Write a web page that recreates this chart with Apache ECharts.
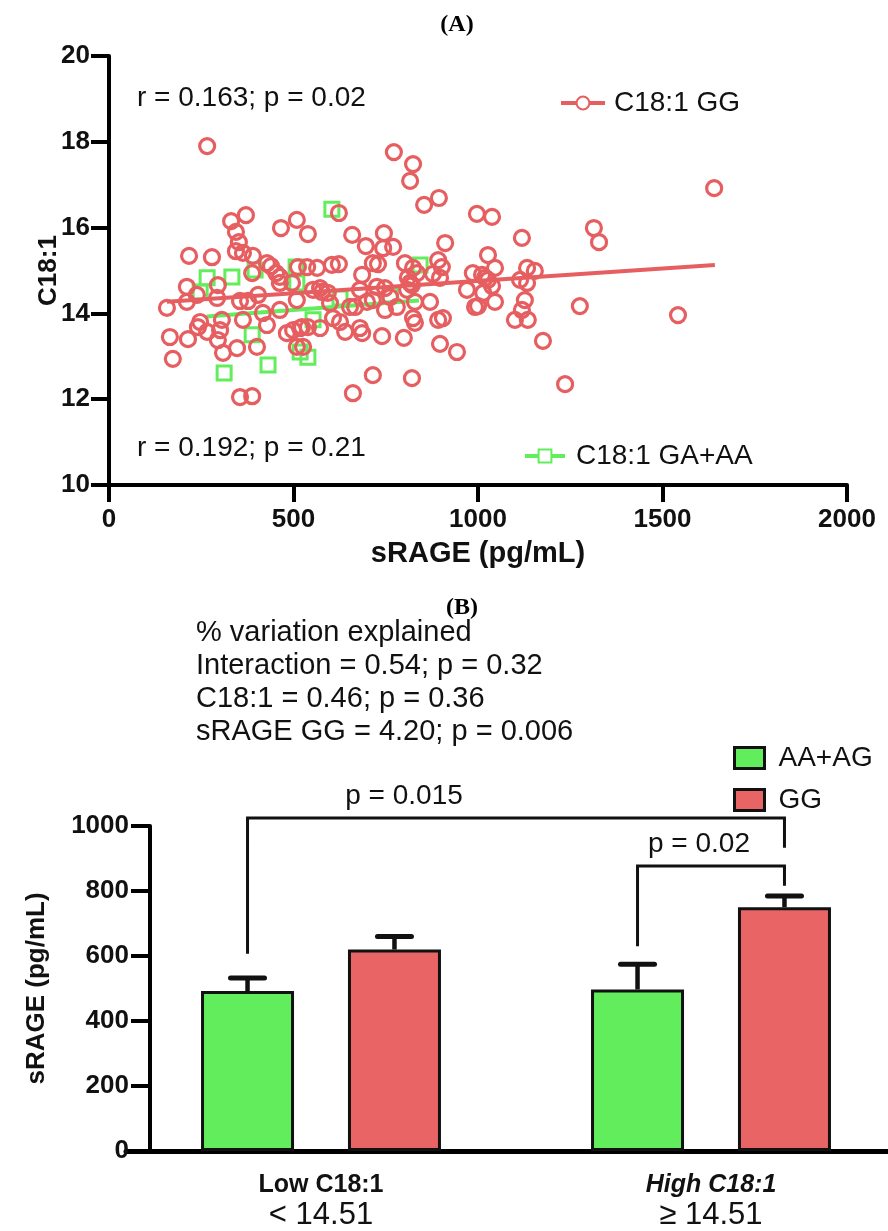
<!DOCTYPE html>
<html>
<head>
<meta charset="utf-8">
<title>C18:1 and sRAGE</title>
<script src="https://cdn.jsdelivr.net/npm/echarts@6/dist/echarts.min.js"></script>
<style>
html,body{margin:0;padding:0;background:#fff;}
#main{width:888px;height:1231px;}
</style>
</head>
<body>
<div id="main"></div>
<script>
// ---- (A) scatter, sRAGE (pg/mL) vs C18:1 ----
var ggPoints = [
 [266,17.90],[772,17.76],[824,17.48],[816,17.09],[854,16.53],[894,16.69],[997,16.32],[1038,16.25],
 [623,16.34],[331,16.15],[371,16.29],[344,15.90],[352,15.66],[344,15.45],[363,15.41],[390,15.34],
 [466,15.99],[509,16.18],[539,15.85],[659,15.83],[696,15.57],[745,15.87],[743,15.52],[770,15.55],
 [911,15.64],[217,15.34],[279,15.31],[428,15.17],[439,15.10],[453,14.94],[463,14.85],[512,15.08],
 [564,15.06],[537,15.08],[604,15.13],[623,15.15],[715,15.17],[729,15.15],[802,15.17],[824,15.06],
 [835,14.94],[686,14.90],[892,15.24],[902,15.08],[878,14.92],[986,14.94],[388,14.94],[211,14.62],
 [295,14.66],[238,14.43],[211,14.27],[293,14.36],[157,14.13],[355,14.29],[377,14.29],[404,14.43],
 [463,14.71],[496,14.71],[509,14.31],[553,14.55],[572,14.59],[593,14.48],[599,14.24],[680,14.55],
 [699,14.27],[715,14.31],[726,14.62],[748,14.59],[762,14.38],[780,14.15],[816,14.71],[808,14.55],
 [829,14.27],[870,14.27],[970,14.55],[992,14.15],[417,14.01],[428,13.73],[363,13.85],[306,13.85],
 [301,13.61],[295,13.38],[309,13.08],[247,13.80],[241,13.68],[266,13.57],[165,13.45],[214,13.40],
 [173,12.94],[347,13.19],[401,13.22],[463,14.08],[482,13.54],[499,13.61],[518,13.66],[539,13.68],
 [572,13.66],[509,13.22],[526,13.22],[607,13.89],[626,13.80],[640,13.57],[653,14.15],[667,14.15],
 [680,13.66],[686,13.54],[740,13.47],[799,13.43],[824,13.89],[829,13.78],[892,13.85],[905,13.89],
 [897,13.29],[943,13.10],[715,12.56],[821,12.49],[661,12.14],[355,12.05],[388,12.07],[1027,15.36],
 [1046,15.06],[1011,14.90],[1019,14.83],[1027,14.78],[1014,14.48],[1038,14.64],[1000,14.17],[1046,14.27],
 [1133,15.06],[1154,14.99],[1114,14.78],[1133,14.71],[1127,14.31],[1119,14.08],[1100,13.85],[1135,13.85],
 [1176,13.36],[1276,14.17],[1236,12.35],[1314,15.99],[1328,15.66],[1119,15.76],[1640,16.92],[1542,13.96],
 [810,14.83],[821,14.66],[897,14.83],[577,14.50],[748,14.08],[523,13.68]
];
var gaaaPoints = [
 [604,16.43],[266,14.83],[333,14.85],[396,15.01],[507,15.08],[509,14.71],[843,15.13],[626,14.36],
 [553,13.85],[388,13.50],[518,13.10],[539,12.98],[431,12.80],[312,12.61],[762,14.43],[247,14.50]
];
var ggFit = [[157,14.27],[1642,15.13]];
var gaaaFit = [[265,13.93],[840,14.30]];

// ---- (B) bars ----
var groups = ['Low C18:1', 'High C18:1'];
var groupCuts = ['< 14.51', '\u2265 14.51'];
var aaMean = [492, 497];
var aaUpper = [532, 575];   // mean + SEM
var ggMean = [620, 750];
var ggUpper = [660, 785];
// [from group, from bar(-1 AA / 1 GG), to group, to bar, left end, right end, top]
var brackets = [[0,-1,1,1,607,933,1025],[1,-1,1,1,630,816,877]];
var bracketText = ['p = 0.015', 'p = 0.02'];
var bracketTextShift = [-112, -12];

var RED = '#e65e60', GREEN = '#62ee5c';
var FONT = "'Liberation Sans', Arial, sans-serif";
var barW = 93, barGap = 0.58;
var pairOffset = barW * (1 + barGap) / 2;

var errData = [];
for (var i = 0; i < groups.length; i++) {
    errData.push([i, aaMean[i], aaUpper[i], -1]);
    errData.push([i, ggMean[i], ggUpper[i], 1]);
}

function plain(v) { return String(v); }

var myChart = echarts.init(document.getElementById('main'));
var option = {
    animation: false,
    backgroundColor: '#fff',
    textStyle: { fontFamily: FONT, color: '#111' },
    grid: [
        { left: 109, top: 56, width: 738, height: 429, outerBoundsMode: 'none' },
        { left: 126, top: 826, width: 780, height: 325, outerBoundsMode: 'none' }
    ],
    xAxis: [
        {
            gridIndex: 0, type: 'value', min: 0, max: 2000, interval: 500,
            name: 'sRAGE (pg/mL)', nameLocation: 'middle', nameGap: 54,
            nameTextStyle: { fontSize: 29, fontWeight: 'bold', color: '#111', verticalAlign: 'top' },
            axisLine: { lineStyle: { color: '#000', width: 4 } },
            axisTick: { length: 17, lineStyle: { color: '#000', width: 4 } },
            axisLabel: { fontSize: 26, fontWeight: 'bold', color: '#111', margin: 22, formatter: plain },
            splitLine: { show: false }
        },
        {
            gridIndex: 1, type: 'category', data: groups,
            axisLine: { lineStyle: { color: '#000', width: 5 } },
            axisTick: { alignWithLabel: true, length: 17, lineStyle: { color: '#000', width: 4 } },
            axisLabel: {
                margin: 20, interval: 0,
                formatter: function (v, idx) {
                    return '{' + (idx === 1 ? 'ai' : 'a') + '|' + v + '}\n{b|' + groupCuts[idx] + '}';
                },
                rich: {
                    a: { fontSize: 25, fontWeight: 'bold', color: '#111', lineHeight: 28 },
                    ai: { fontSize: 25, fontWeight: 'bold', fontStyle: 'italic', color: '#111', lineHeight: 28 },
                    b: { fontSize: 31, color: '#111', lineHeight: 32 }
                }
            }
        }
    ],
    yAxis: [
        {
            gridIndex: 0, type: 'value', min: 10, max: 20, interval: 2,
            name: 'C18:1', nameLocation: 'middle', nameGap: 47, nameMoveOverlap: false,
            nameTextStyle: { fontSize: 26, fontWeight: 'bold', color: '#111' },
            axisLine: { show: true, lineStyle: { color: '#000', width: 4 } },
            axisTick: { show: true, length: 18, lineStyle: { color: '#000', width: 4 } },
            axisLabel: { fontSize: 26, fontWeight: 'bold', color: '#111', margin: 19, formatter: plain },
            splitLine: { show: false }
        },
        {
            gridIndex: 1, type: 'value', min: 0, max: 1000, interval: 200, offset: -24,
            name: 'sRAGE (pg/mL)', nameLocation: 'middle', nameGap: 100, nameMoveOverlap: false,
            nameTextStyle: { fontSize: 26, fontWeight: 'bold', color: '#111' },
            axisLine: { show: true, lineStyle: { color: '#000', width: 4 } },
            axisTick: { show: true, length: 19, lineStyle: { color: '#000', width: 4 } },
            axisLabel: { fontSize: 26, fontWeight: 'bold', color: '#111', margin: 21, formatter: plain },
            splitLine: { show: false }
        }
    ],
    legend: [
        {
            data: ['C18:1 GG'], left: 554, top: 84, itemWidth: 44, itemHeight: 16,
            lineStyle: { width: 4 },
            textStyle: { fontSize: 28, color: '#111', padding: [0, 0, 0, 4] }
        },
        {
            data: ['C18:1 GA+AA'], left: 518, top: 437, itemWidth: 40, itemHeight: 16,
            lineStyle: { width: 4 },
            textStyle: { fontSize: 28, color: '#111', padding: [0, 0, 0, 6] }
        },
        {
            data: ['AA+AG', 'GG'], orient: 'vertical', left: 728, top: 739,
            itemWidth: 30, itemHeight: 21, itemGap: 14, icon: 'rect',
            itemStyle: { borderColor: '#111', borderWidth: 3 },
            textStyle: { fontSize: 28, color: '#111', padding: [0, 0, 0, 9] }
        }
    ],
    graphic: [
        { type: 'text', x: 457, y: 25, style: { text: '(A)', font: "bold 24px 'Liberation Serif', serif", fill: '#000', align: 'center', verticalAlign: 'middle' } },
        { type: 'text', x: 462, y: 608, style: { text: '(B)', font: "bold 24px 'Liberation Serif', serif", fill: '#000', align: 'center', verticalAlign: 'middle' } },
        { type: 'text', x: 137, y: 98, style: { text: 'r = 0.163; p = 0.02', font: "28px " + FONT, fill: '#111', verticalAlign: 'middle' } },
        { type: 'text', x: 137, y: 448, style: { text: 'r = 0.192; p = 0.21', font: "28px " + FONT, fill: '#111', verticalAlign: 'middle' } },
        { type: 'text', x: 196, y: 616, style: {
            text: '% variation explained\nInteraction = 0.54; p = 0.32\nC18:1 = 0.46; p = 0.36\nsRAGE GG = 4.20; p = 0.006',
            font: "29px " + FONT, fill: '#111', lineHeight: 33 } }
    ],
    series: [
        {
            name: 'C18:1 GG', type: 'line', xAxisIndex: 0, yAxisIndex: 0, data: ggFit,
            symbol: 'emptyCircle', symbolSize: 14, showSymbol: false, z: 6,
            itemStyle: { color: RED, borderWidth: 3 },
            lineStyle: { color: RED, width: 4 }
        },
        {
            name: 'C18:1 GA+AA', type: 'line', xAxisIndex: 0, yAxisIndex: 0, data: gaaaFit,
            symbol: 'emptyRect', symbolSize: 14, showSymbol: false, z: 2,
            itemStyle: { color: GREEN, borderWidth: 3 },
            lineStyle: { color: GREEN, width: 4 }
        },
        {
            name: 'GA+AA points', type: 'scatter', xAxisIndex: 0, yAxisIndex: 0, data: gaaaPoints,
            symbol: 'rect', symbolSize: 14, z: 3,
            itemStyle: { color: 'rgba(255,255,255,0)', borderColor: GREEN, borderWidth: 3, opacity: 1 }
        },
        {
            name: 'GG points', type: 'scatter', xAxisIndex: 0, yAxisIndex: 0, data: ggPoints,
            symbol: 'circle', symbolSize: 15, z: 4,
            itemStyle: { color: 'rgba(255,255,255,0)', borderColor: RED, borderWidth: 3.2, opacity: 1 }
        },
        {
            name: 'AA+AG', type: 'bar', xAxisIndex: 1, yAxisIndex: 1, data: aaMean,
            barWidth: barW, barGap: (barGap * 100) + '%', z: 3,
            itemStyle: { color: GREEN, borderColor: '#111', borderWidth: 3 }
        },
        {
            name: 'GG', type: 'bar', xAxisIndex: 1, yAxisIndex: 1, data: ggMean,
            barWidth: barW, barGap: (barGap * 100) + '%', z: 3,
            itemStyle: { color: '#e96565', borderColor: '#111', borderWidth: 3 }
        },
        {
            name: 'sem', type: 'custom', xAxisIndex: 1, yAxisIndex: 1, data: errData, z: 2,
            encode: { x: 0, y: [1, 2] },
            renderItem: function (params, api) {
                var lo = api.coord([api.value(0), api.value(1)]);
                var hi = api.coord([api.value(0), api.value(2)]);
                var x = lo[0] + api.value(3) * pairOffset;
                return { type: 'group', children: [
                    { type: 'line', shape: { x1: x, y1: lo[1], x2: x, y2: hi[1] }, style: { stroke: '#111', lineWidth: 4.5 } },
                    { type: 'line', shape: { x1: x - 17, y1: hi[1], x2: x + 17, y2: hi[1] }, style: { stroke: '#111', lineWidth: 5, lineCap: 'round' } }
                ] };
            }
        },
        {
            name: 'brackets', type: 'custom', xAxisIndex: 1, yAxisIndex: 1, data: brackets, z: 5, clip: false,
            encode: { x: 0, y: 6 },
            renderItem: function (params, api) {
                var a = api.coord([api.value(0), api.value(4)]);
                var b = api.coord([api.value(2), api.value(5)]);
                var t = api.coord([api.value(0), api.value(6)]);
                var x1 = a[0] + api.value(1) * pairOffset;
                var x2 = b[0] + api.value(3) * pairOffset;
                return { type: 'group', children: [
                    { type: 'polyline', shape: { points: [[x1, a[1]], [x1, t[1]], [x2, t[1]], [x2, b[1]]] },
                      style: { stroke: '#111', lineWidth: 3, fill: null } },
                    { type: 'text', x: (x1 + x2) / 2 + bracketTextShift[params.dataIndex], y: t[1] - 8,
                      style: { text: bracketText[params.dataIndex], font: "28px " + FONT, fill: '#111', align: 'center', verticalAlign: 'bottom' } }
                ] };
            }
        }
    ]
};
myChart.setOption(option);
</script>
</body>
</html>
